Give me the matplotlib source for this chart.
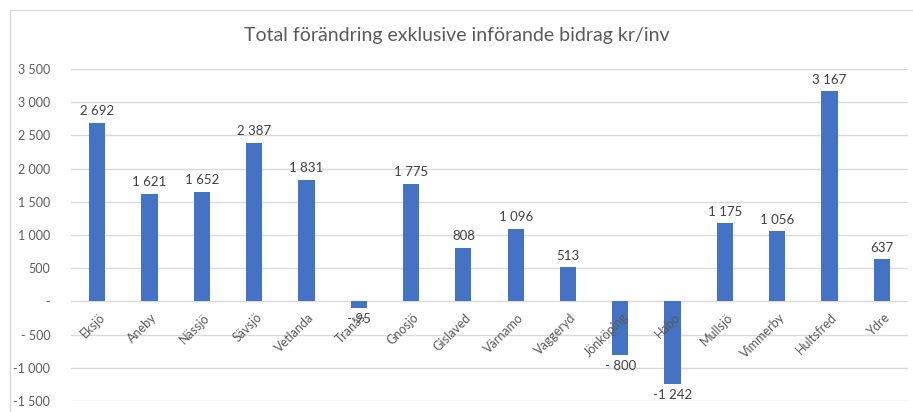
import matplotlib.pyplot as plt
import matplotlib.patches as mpatches
import numpy as np

plt.rcParams['font.family'] = ['Lato', 'DejaVu Sans']

kommuner = ['Eksjö', 'Aneby', 'Nässjö', 'Sävsjö', 'Vetlanda', 'Tranås', 'Gnosjö',
            'Gislaved', 'Värnamo', 'Vaggeryd', 'Jönköping', 'Habo', 'Mullsjö',
            'Vimmerby', 'Hultsfred', 'Ydre']
values = [2692, 1621, 1652, 2387, 1831, -95, 1775, 808, 1096, 513, -800, -1242,
          1175, 1056, 3167, 637]
yticks = [3500, 3000, 2500, 2000, 1500, 1000, 500, 0, -500, -1000, -1500]
ytick_labels = ['3 500', '3 000', '2 500', '2 000', '1 500', '1 000', '500', '-',
                '- 500', '-1 000', '-1 500']


def fmt(v):
    s = f'{abs(v):,}'.replace(',', ' ')
    if v < 0:
        return ('-' if abs(v) >= 1000 else '- ') + s
    return s


grey = '#595959'
fig = plt.figure(figsize=(9.13, 4.12), dpi=100)
fig.patches.append(mpatches.Rectangle((10 / 913, -0.01), 1.0, (412 - 10) / 412 + 0.01,
                                      transform=fig.transFigure, fill=False,
                                      edgecolor='#d9d9d9', linewidth=1))
ax = fig.add_axes([71 / 913, 11 / 412, (908 - 71) / 913, (401 - 69) / 412])

x = np.arange(len(kommuner))
ax.bar(x, values, width=0.31, color='#4472C4', zorder=3)
ax.set_xlim(-0.5, len(kommuner) - 0.5)
ax.set_ylim(-1500, 3500)
ax.set_yticks(yticks)
ax.set_yticklabels(ytick_labels, fontsize=9, color=grey)
ax.tick_params(axis='y', length=0, pad=15)
ax.set_xticks([])
ax.grid(axis='y', color='#d9d9d9', linewidth=1, zorder=0)
for s in ax.spines.values():
    s.set_visible(False)

for i, v in enumerate(values):
    if v >= 0:
        ax.annotate(fmt(v), (i, v), xytext=(0, 4), textcoords='offset points',
                    ha='center', va='bottom', fontsize=9.5, color='#404040')
    else:
        ax.annotate(fmt(v), (i, v), xytext=(0, -4), textcoords='offset points',
                    ha='center', va='top', fontsize=9.5, color='#404040')
    ax.annotate(kommuner[i], (i, 0), xytext=(1, -7), textcoords='offset points',
                ha='right', va='top', rotation=45, rotation_mode='anchor',
                fontsize=9, color=grey)

fig.text(0.5, 0.915, 'Total förändring exklusive införande bidrag kr/inv',
         ha='center', va='center', fontsize=14, color=grey)

plt.savefig('out.png', dpi=100)
